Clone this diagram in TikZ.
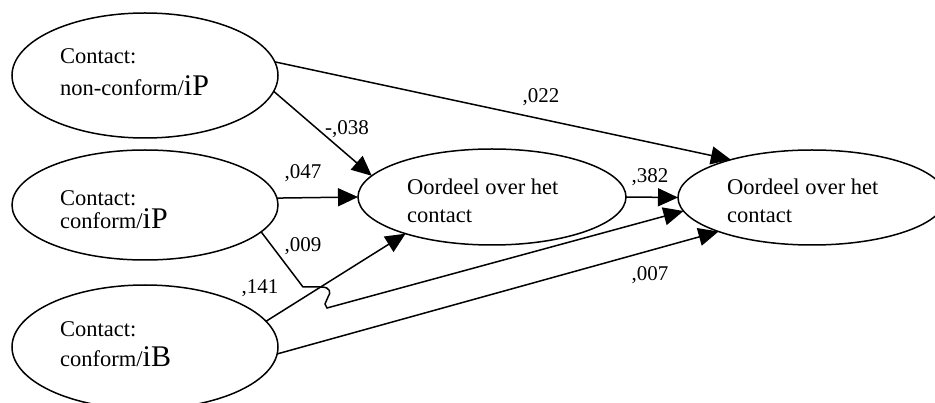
\documentclass[tikz,border=0pt]{standalone}
\usepackage{fontspec}
\setmainfont{Liberation Serif}
\usetikzlibrary{shapes.geometric,arrows.meta}
\begin{document}
\begin{tikzpicture}[x=1pt,y=-1pt,
  oval/.style={draw,ellipse,line width=1.5pt,inner sep=0pt,outer sep=0pt},
  txt/.style={anchor=base west,inner sep=0pt,font=\fontsize{22.5}{26}\selectfont},
  lbl/.style={anchor=base,inner sep=0pt,font=\fontsize{21}{24}\selectfont},
  conn/.style={line width=1.5pt,-{Triangle[length=20pt,width=18pt]}}]
\clip (0,0) rectangle (935,403);
% ellipses
\node[oval,minimum width=266pt,minimum height=125pt] (e1) at (145,75.5) {};
\node[oval,minimum width=266pt,minimum height=110pt] (e2) at (145,205) {};
\node[oval,minimum width=266pt,minimum height=124pt] (e3) at (145,347) {};
\node[oval,minimum width=268pt,minimum height=96pt] (m) at (492,197) {};
\node[oval,minimum width=268pt,minimum height=95pt] (r) at (812,197.5) {};
% texts
\node[txt] (t1a) at (60,64) {Contact:};
\node[txt] (t1b) at (60,96) {non-conform/{\fontsize{30}{30}\selectfont iP}};
\node[txt] (t2a) at (60,205.5) {Contact:};
\node[txt] (t2b) at (60,229) {conform/{\fontsize{30}{30}\selectfont iP}};
\node[txt] (t3a) at (60,336.5) {Contact:};
\node[txt] (t3b) at (60,367) {conform/{\fontsize{30}{30}\selectfont iB}};
\node[txt] (tma) at (407,195) {Oordeel over het};
\node[txt] (tmb) at (407,223) {contact};
\node[txt] (tra) at (727,195) {Oordeel over het};
\node[txt] (trb) at (727,223) {contact};
% connectors
\draw[conn] (e1.6) -- (r.155);
\draw[conn] (e1.-7) -- (m.170);
\draw[conn] (e2.3) -- (m.180);
\draw[conn] (m.east) -- (r.west);
\draw[conn] (e2.-13) -- (303,287) -- (321,287) .. controls (331,287) and (331,293) .. (328,297) -- (325,304) -- (327,308) -- (r.186);
\draw[conn] (e3.12) -- (m.203);
\draw[conn] (e3.-3) -- (r.200);
% labels
\node[lbl] (l022) at (541,103) {,022};
\node[lbl] (l038) at (347,135) {-,038};
\node[lbl] (l047) at (303,179) {,047};
\node[lbl] (l382) at (650,182.5) {,382};
\node[lbl] (l009) at (303,251.5) {,009};
\node[lbl] (l141) at (260,294) {,141};
\node[lbl] (l007) at (650,280.5) {,007};
\end{tikzpicture}
\end{document}
